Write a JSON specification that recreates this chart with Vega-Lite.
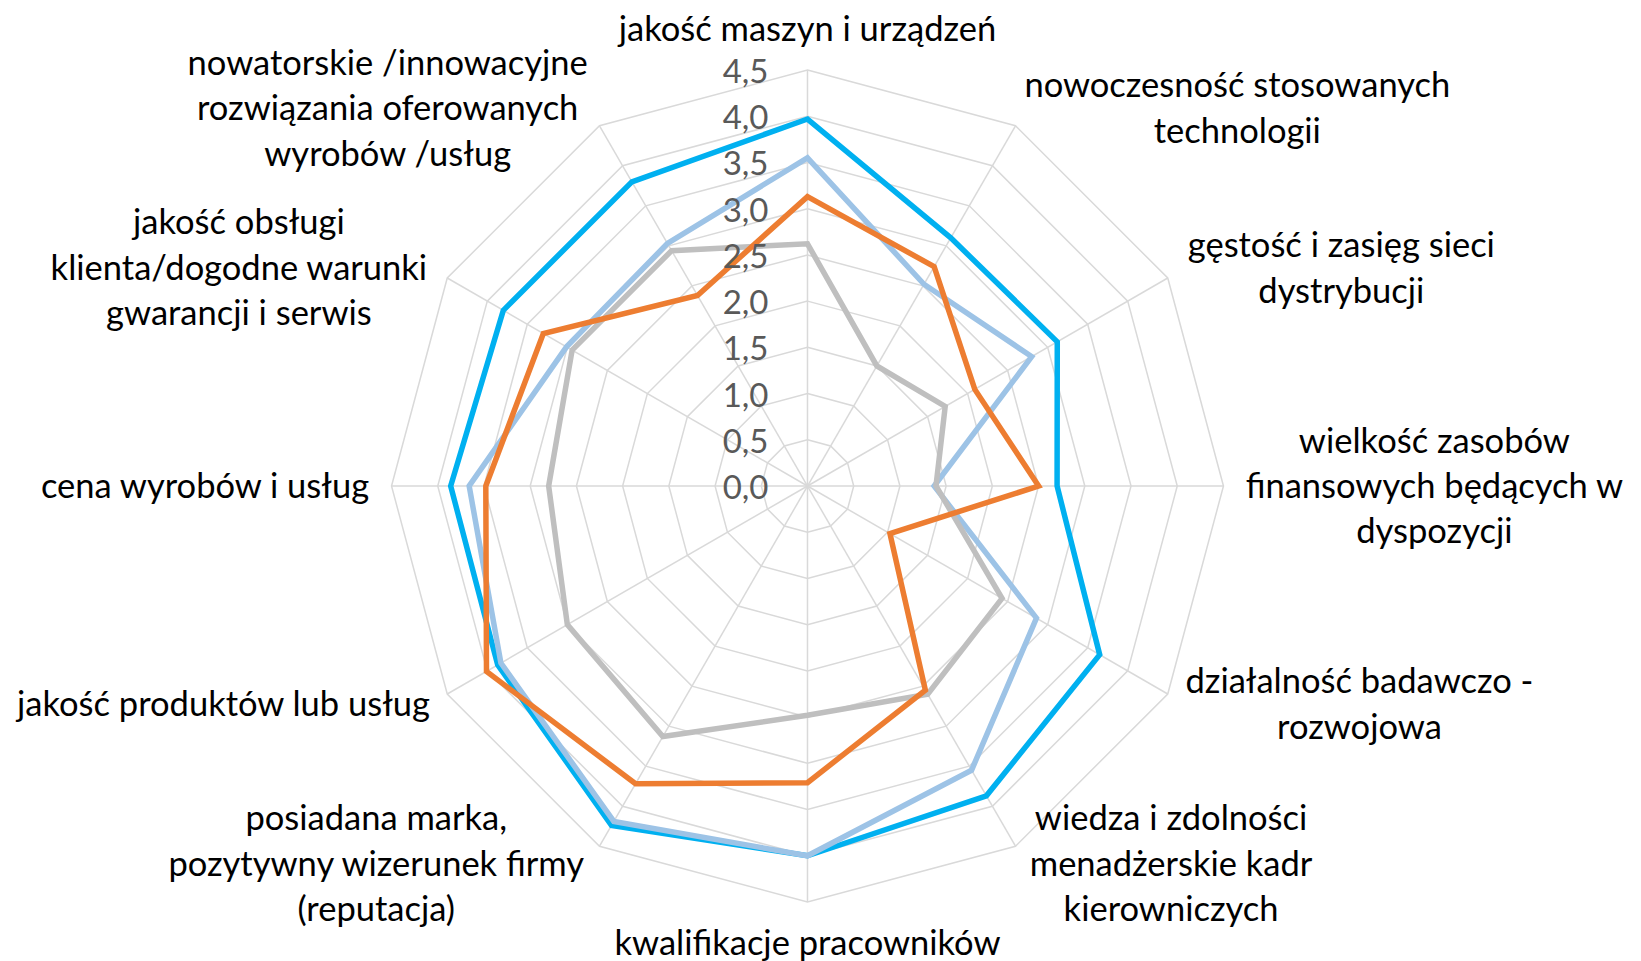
{
  "$schema": "https://vega.github.io/schema/vega-lite/v6.json",
  "width": 1641,
  "height": 961,
  "autosize": {"type": "none"},
  "padding": 0,
  "background": "white",
  "config": {
    "view": {"stroke": null},
    "locale": {"number": {"decimal": ",", "thousands": " ", "grouping": [3], "currency": ["", " zł"]}}
  },
  "datasets": {
    "series": [
      {"s": "a", "k": 0, "v": 3.97}, {"s": "a", "k": 1, "v": 3.10}, {"s": "a", "k": 2, "v": 3.12}, {"s": "a", "k": 3, "v": 2.70},
      {"s": "a", "k": 4, "v": 3.65}, {"s": "a", "k": 5, "v": 3.87}, {"s": "a", "k": 6, "v": 4.00}, {"s": "a", "k": 7, "v": 4.24},
      {"s": "a", "k": 8, "v": 3.87}, {"s": "a", "k": 9, "v": 3.86}, {"s": "a", "k": 10, "v": 3.80}, {"s": "a", "k": 11, "v": 3.80},
      {"s": "b", "k": 0, "v": 3.55}, {"s": "b", "k": 1, "v": 2.52}, {"s": "b", "k": 2, "v": 2.80}, {"s": "b", "k": 3, "v": 1.37},
      {"s": "b", "k": 4, "v": 2.86}, {"s": "b", "k": 5, "v": 3.55}, {"s": "b", "k": 6, "v": 4.00}, {"s": "b", "k": 7, "v": 4.19},
      {"s": "b", "k": 8, "v": 3.83}, {"s": "b", "k": 9, "v": 3.66}, {"s": "b", "k": 10, "v": 3.01}, {"s": "b", "k": 11, "v": 3.03},
      {"s": "c", "k": 0, "v": 2.62}, {"s": "c", "k": 1, "v": 1.50}, {"s": "c", "k": 2, "v": 1.72}, {"s": "c", "k": 3, "v": 1.39},
      {"s": "c", "k": 4, "v": 2.43}, {"s": "c", "k": 5, "v": 2.60}, {"s": "c", "k": 6, "v": 2.48}, {"s": "c", "k": 7, "v": 3.13},
      {"s": "c", "k": 8, "v": 3.00}, {"s": "c", "k": 9, "v": 2.80}, {"s": "c", "k": 10, "v": 2.94}, {"s": "c", "k": 11, "v": 2.94},
      {"s": "d", "k": 0, "v": 3.13}, {"s": "d", "k": 1, "v": 2.74}, {"s": "d", "k": 2, "v": 2.09}, {"s": "d", "k": 3, "v": 2.50},
      {"s": "d", "k": 4, "v": 1.03}, {"s": "d", "k": 5, "v": 2.55}, {"s": "d", "k": 6, "v": 3.21}, {"s": "d", "k": 7, "v": 3.72},
      {"s": "d", "k": 8, "v": 4.01}, {"s": "d", "k": 9, "v": 3.48}, {"s": "d", "k": 10, "v": 3.30}, {"s": "d", "k": 11, "v": 2.38}
    ],
    "rings": [
      {"level": 0.5, "k": [0,1,2,3,4,5,6,7,8,9,10,11]},
      {"level": 1.0, "k": [0,1,2,3,4,5,6,7,8,9,10,11]},
      {"level": 1.5, "k": [0,1,2,3,4,5,6,7,8,9,10,11]},
      {"level": 2.0, "k": [0,1,2,3,4,5,6,7,8,9,10,11]},
      {"level": 2.5, "k": [0,1,2,3,4,5,6,7,8,9,10,11]},
      {"level": 3.0, "k": [0,1,2,3,4,5,6,7,8,9,10,11]},
      {"level": 3.5, "k": [0,1,2,3,4,5,6,7,8,9,10,11]},
      {"level": 4.0, "k": [0,1,2,3,4,5,6,7,8,9,10,11]},
      {"level": 4.5, "k": [0,1,2,3,4,5,6,7,8,9,10,11]}
    ],
    "spokes": [
      {"k": 0}, {"k": 1}, {"k": 2}, {"k": 3}, {"k": 4}, {"k": 5},
      {"k": 6}, {"k": 7}, {"k": 8}, {"k": 9}, {"k": 10}, {"k": 11}
    ],
    "ticks": [
      {"level": 0}, {"level": 0.5}, {"level": 1}, {"level": 1.5}, {"level": 2},
      {"level": 2.5}, {"level": 3}, {"level": 3.5}, {"level": 4}, {"level": 4.5}
    ],
    "labels": [
      {"k": 0, "line": 0, "t": "jakość maszyn i urządzeń"},
      {"k": 1, "line": 0, "t": "nowoczesność stosowanych"},
      {"k": 1, "line": 1, "t": "technologii"},
      {"k": 2, "line": 0, "t": "gęstość i zasięg sieci"},
      {"k": 2, "line": 1, "t": "dystrybucji"},
      {"k": 3, "line": 0, "t": "wielkość zasobów"},
      {"k": 3, "line": 1, "t": "finansowych będących w"},
      {"k": 3, "line": 2, "t": "dyspozycji"},
      {"k": 4, "line": 0, "t": "działalność badawczo -"},
      {"k": 4, "line": 1, "t": "rozwojowa"},
      {"k": 5, "line": 0, "t": "wiedza i zdolności"},
      {"k": 5, "line": 1, "t": "menadżerskie kadr"},
      {"k": 5, "line": 2, "t": "kierowniczych"},
      {"k": 6, "line": 0, "t": "kwalifikacje pracowników"},
      {"k": 7, "line": 0, "t": "posiadana marka,"},
      {"k": 7, "line": 1, "t": "pozytywny wizerunek firmy"},
      {"k": 7, "line": 2, "t": "(reputacja)"},
      {"k": 8, "line": 0, "t": "jakość produktów lub usług"},
      {"k": 9, "line": 0, "t": "cena wyrobów i usług"},
      {"k": 10, "line": 0, "t": "jakość obsługi"},
      {"k": 10, "line": 1, "t": "klienta/dogodne warunki"},
      {"k": 10, "line": 2, "t": "gwarancji i serwis"},
      {"k": 11, "line": 0, "t": "nowatorskie /innowacyjne"},
      {"k": 11, "line": 1, "t": "rozwiązania oferowanych"},
      {"k": 11, "line": 2, "t": "wyrobów /usług"}
    ]
  },
  "layer": [
    {
      "data": {"name": "rings"},
      "transform": [
        {"flatten": ["k"]},
        {"calculate": "datum.level*sin(datum.k*PI/6)", "as": "x"},
        {"calculate": "datum.level*cos(datum.k*PI/6)", "as": "y"}
      ],
      "mark": {"type": "line", "interpolate": "linear-closed", "stroke": "#D9D9D9", "strokeWidth": 1.5},
      "encoding": {
        "x": {"field": "x", "type": "quantitative", "scale": {"domain": [-8.7354, 9.0167], "nice": false, "zero": false}, "axis": null},
        "y": {"field": "y", "type": "quantitative", "scale": {"domain": [-5.1385, 5.2575], "nice": false, "zero": false}, "axis": null},
        "detail": {"field": "level", "type": "nominal"},
        "order": {"field": "k", "type": "quantitative"}
      }
    },
    {
      "data": {"name": "spokes"},
      "transform": [
        {"calculate": "4.5*sin(datum.k*PI/6)", "as": "x"},
        {"calculate": "4.5*cos(datum.k*PI/6)", "as": "y"}
      ],
      "mark": {"type": "rule", "stroke": "#D9D9D9", "strokeWidth": 1.5},
      "encoding": {
        "x": {"field": "x", "type": "quantitative", "scale": {"domain": [-8.7354, 9.0167], "nice": false, "zero": false}, "axis": null},
        "y": {"field": "y", "type": "quantitative", "scale": {"domain": [-5.1385, 5.2575], "nice": false, "zero": false}, "axis": null},
        "x2": {"datum": 0},
        "y2": {"datum": 0}
      }
    },
    {
      "data": {"name": "series"},
      "transform": [
        {"calculate": "datum.v*sin(datum.k*PI/6)", "as": "x"},
        {"calculate": "datum.v*cos(datum.k*PI/6)", "as": "y"}
      ],
      "mark": {"type": "line", "interpolate": "linear-closed", "strokeWidth": 5.5},
      "encoding": {
        "x": {"field": "x", "type": "quantitative", "scale": {"domain": [-8.7354, 9.0167], "nice": false, "zero": false}, "axis": null},
        "y": {"field": "y", "type": "quantitative", "scale": {"domain": [-5.1385, 5.2575], "nice": false, "zero": false}, "axis": null},
        "color": {"field": "s", "type": "nominal", "scale": {"domain": ["a", "b", "c", "d"], "range": ["#00B0F0", "#9DC3E6", "#BFBFBF", "#ED7D31"]}, "legend": null},
        "order": {"field": "k", "type": "quantitative"}
      }
    },
    {
      "data": {"name": "ticks"},
      "mark": {"type": "text", "align": "right", "baseline": "middle", "dx": -39, "dy": 3, "font": "Lato", "fontSize": 33, "fill": "#595959"},
      "encoding": {
        "x": {"datum": 0, "type": "quantitative", "scale": {"domain": [-8.7354, 9.0167], "nice": false, "zero": false}, "axis": null},
        "y": {"field": "level", "type": "quantitative", "scale": {"domain": [-5.1385, 5.2575], "nice": false, "zero": false}, "axis": null},
        "text": {"field": "level", "type": "quantitative", "format": ".1f"}
      }
    },
    {
      "data": {"name": "labels"},
      "transform": [
        {"calculate": "(0.49*length(datum.t) - 0.26*(length(datum.t)-length(replace(datum.t, regexp('[ijlł ]','g'), ''))) - 0.15*(length(datum.t)-length(replace(datum.t, regexp('[tfr(),/-]','g'), ''))) - 0.09*(length(datum.t)-length(replace(datum.t, regexp('[sśczżźć]','g'), ''))) + 0.28*(length(datum.t)-length(replace(datum.t, regexp('[mw]','g'), ''))))*0.4003", "as": "w"},
        {"joinaggregate": [{"op": "max", "field": "w", "as": "W"}, {"op": "max", "field": "line", "as": "maxline"}], "groupby": ["k"]},
        {"calculate": "sin(datum.k*PI/6)", "as": "sa"},
        {"calculate": "cos(datum.k*PI/6)", "as": "ca"},
        {"calculate": "abs(datum.sa) < 0.01 ? 0 : 4.72*datum.sa + (datum.sa > 0 ? 1 : -1)*(0.05 + datum.W/2)", "as": "lx"},
        {"calculate": "(abs(datum.sa) < 0.01 ? (datum.ca > 0 ? 1 : -1)*(4.7 + (datum.maxline+1)*0.246) : 4.72*datum.ca) + (datum.maxline/2 - datum.line)*0.492", "as": "ly"}
      ],
      "mark": {"type": "text", "align": "center", "baseline": "middle", "dy": 2, "font": "Lato", "fontSize": 34.5, "fill": "#000000"},
      "encoding": {
        "x": {"field": "lx", "type": "quantitative", "scale": {"domain": [-8.7354, 9.0167], "nice": false, "zero": false}, "axis": null},
        "y": {"field": "ly", "type": "quantitative", "scale": {"domain": [-5.1385, 5.2575], "nice": false, "zero": false}, "axis": null},
        "text": {"field": "t", "type": "nominal"}
      }
    }
  ]
}
